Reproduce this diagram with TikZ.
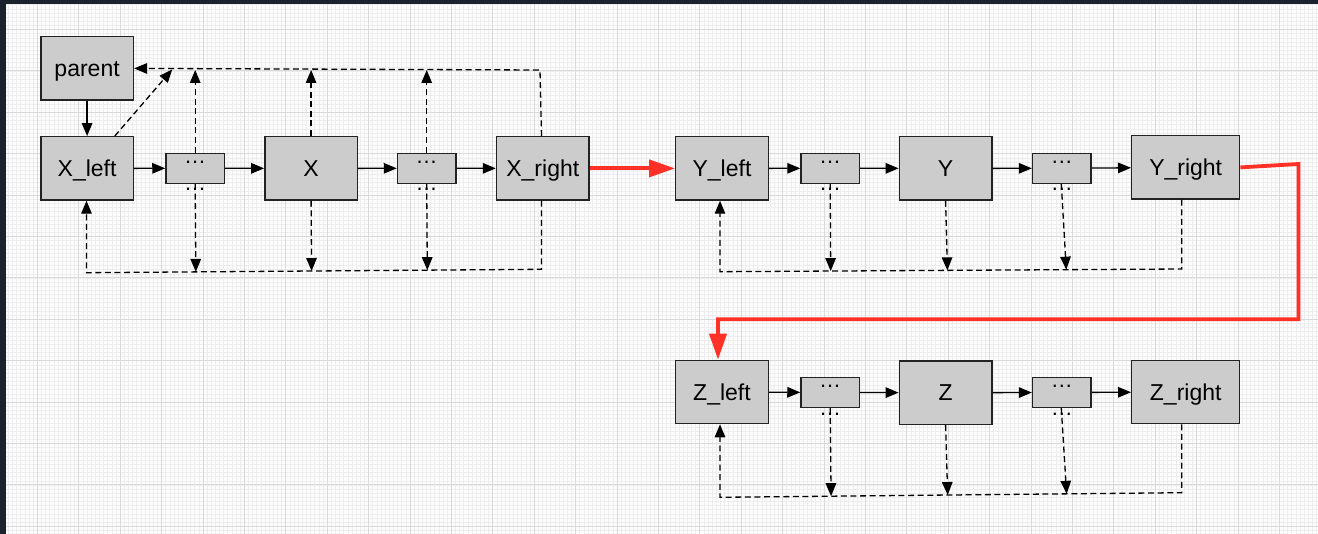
\documentclass[tikz,border=0pt]{standalone}
\usepackage{fontspec}
\setmainfont{Liberation Sans}
\usetikzlibrary{arrows.meta,calc}
\definecolor{boxgray}{HTML}{CCCCCC}
\definecolor{boxedge}{HTML}{222222}
\definecolor{linkred}{HTML}{FF3126}
\definecolor{gridminor}{HTML}{EDEDED}
\definecolor{gridmajor}{HTML}{DADADA}
\definecolor{paper}{HTML}{FCFCFC}
\definecolor{frameband}{HTML}{1B222D}
\begin{document}
\begin{tikzpicture}[x=1pt,y=-1pt,
  box/.style={draw=boxedge, fill=boxgray, line width=1.4pt, minimum width=92.6pt,
    minimum height=63.3pt, inner sep=0pt, font=\fontsize{23}{27}\selectfont,
    text height=16.4pt, text depth=0pt},
  widebox/.style={box, minimum width=108pt},
  dotbox/.style={draw=boxedge, fill=boxgray, line width=1.4pt, minimum width=58.5pt,
    minimum height=30pt, inner sep=0pt},
  dots/.style={inner sep=0pt, font=\fontsize{22}{26}\selectfont, anchor=base},
  link/.style={draw=black, line width=1.3pt, -{Triangle[length=13pt,width=10.5pt]}},
  ref/.style={link, dash pattern=on 6pt off 3.6pt},
  redlink/.style={draw=linkred, line width=3.8pt, -{Triangle[length=26pt,width=17pt]}},
]
% canvas and grid paper
\useasboundingbox (0,0) rectangle (1318,534);
\fill[paper] (0,0) rectangle (1318,534);
\draw[gridminor, line width=0.5pt] \foreach \i in {0,...,319} { ({-4.1+4.14*\i},0) -- ++(0,534) };
\draw[gridminor, line width=0.5pt] \foreach \i in {0,...,132} { (0,{-11.9+4.14*\i}) -- ++(1318,0) };
\draw[gridmajor, line width=0.8pt] \foreach \k in {0,...,30} { ({37.3+41.4*\k},0) -- ++(0,534) };
\draw[gridmajor, line width=0.8pt] \foreach \k in {0,...,12} { (0,{29.5+41.4*\k}) -- ++(1318,0) };
\fill[frameband] (0,0) rectangle (1318,4);
\fill[frameband] (0,0) rectangle (5.5,534);

% first row: X
\node[box] (parent) at (87.1,68.4) {parent};
\node[box] (xleft) at (87.1,168.4) {X\_left};
\node[dotbox] (d1) at (195.2,168.3) {};
\node[box] (x) at (311.1,168.4) {X};
\node[dotbox] (d2) at (426.7,168.3) {};
\node[box] (xright) at (542.8,168.4) {X\_right};

% second row: Y
\node[box] (yleft) at (722,168.4) {Y\_left};
\node[dotbox] (d3) at (830.2,168.3) {};
\node[box] (y) at (945.6,168.4) {Y};
\node[dotbox] (d4) at (1061.8,168.3) {};
\node[widebox] (yright) at (1185.7,167.4) {Y\_right};

% third row: Z
\node[box] (zleft) at (722,392) {Z\_left};
\node[dotbox] (d5) at (830.2,392.5) {};
\node[box] (z) at (945.6,392.7) {Z};
\node[dotbox] (d6) at (1061.8,392.5) {};
\node[widebox] (zright) at (1185.7,392) {Z\_right};

% forward links
\draw[link] (parent) -- (xleft);
\draw[link] (xleft) -- (d1);
\draw[link] (d1) -- (x);
\draw[link] (x) -- (d2);
\draw[link] (d2) -- (xright);
\draw[link] (yleft) -- (d3);
\draw[link] (d3) -- (y);
\draw[link] (y) -- (d4);
\draw[link] (d4) -- (yright);
\draw[link] (zleft) -- (d5);
\draw[link] (d5) -- (z);
\draw[link] (z) -- (d6);
\draw[link] (d6) -- (zright);

% parent references of the X row
\coordinate (xtop) at (540,70);
\coordinate (xdiag) at (172.2,69.5);
\draw[ref] ([xshift=-1.3pt]xright.north) -- (xtop) -- (parent.east);
\draw[ref] ([xshift=27.7pt]xleft.north) -- (xdiag);
\draw[ref] (d1.north) -- (d1.north |- xtop);
\draw[ref] (x.north) -- (x.north |- xtop);
\draw[ref] (d2.north) -- (d2.north |- xtop);

% bottom references of the X row
\coordinate (xbr) at (541.5,269.3);
\coordinate (xbl) at (86.5,272.7);
\draw[ref] ([xshift=-1.3pt]xright.south) -- (xbr) -- (xbl) -- (xbl |- xleft.south);
\draw[ref] (d1.south) -- ($(xbl)!(d1.south)!(xbr)$);
\draw[ref] (x.south) -- ($(xbl)!(x.south)!(xbr)$);
\draw[ref] (d2.south) -- ($(xbl)!(d2.south)!(xbr)$);

% bottom references of the Y row
\coordinate (ybr) at (1181.7,269);
\coordinate (ybl) at (720,271.7);
\draw[ref] ([xshift=-4pt]yright.south) -- (ybr) -- (ybl) -- (ybl |- yleft.south);
\draw[ref] (d3.south) -- ($(ybl)!(d3.south)!(ybr)$);
\draw[ref] (y.south) -- ($(ybl)!([xshift=1.4pt]y.south)!(ybr)$);
\draw[ref] ([xshift=-0.5pt]d4.south) -- ($(ybl)!([xshift=4pt]d4.south)!(ybr)$);

% bottom references of the Z row
\coordinate (zbr) at (1181.7,492.7);
\coordinate (zbl) at (720,497.3);
\draw[ref] ([xshift=-4pt]zright.south) -- (zbr) -- (zbl) -- (zbl |- zleft.south);
\draw[ref] (d5.south) -- ($(zbl)!(d5.south)!(zbr)$);
\draw[ref] (z.south) -- ($(zbl)!([xshift=1.4pt]z.south)!(zbr)$);
\draw[ref] ([xshift=-0.5pt]d6.south) -- ($(zbl)!([xshift=4pt]d6.south)!(zbr)$);

% ellipsis marks on the gap boxes
\foreach \d in {d1,d2,d3,d4,d5,d6} {
  \node[dots] (\d up) at ([yshift=4.5pt]\d.center) {…};
  \node[dots] (\d down) at ([yshift=-22.7pt]\d.center) {…};
}

% red hand-over path
\draw[redlink] (xright) -- (yleft);
\coordinate (r1) at (1298.5,164);
\coordinate (r2) at (1298.5,319.3);
\coordinate (r3) at (718,319.3);
\draw[redlink] (yright.east) -- (r1) -- (r2) -- (r3) -- (r3 |- zleft.north);
\end{tikzpicture}
\end{document}
